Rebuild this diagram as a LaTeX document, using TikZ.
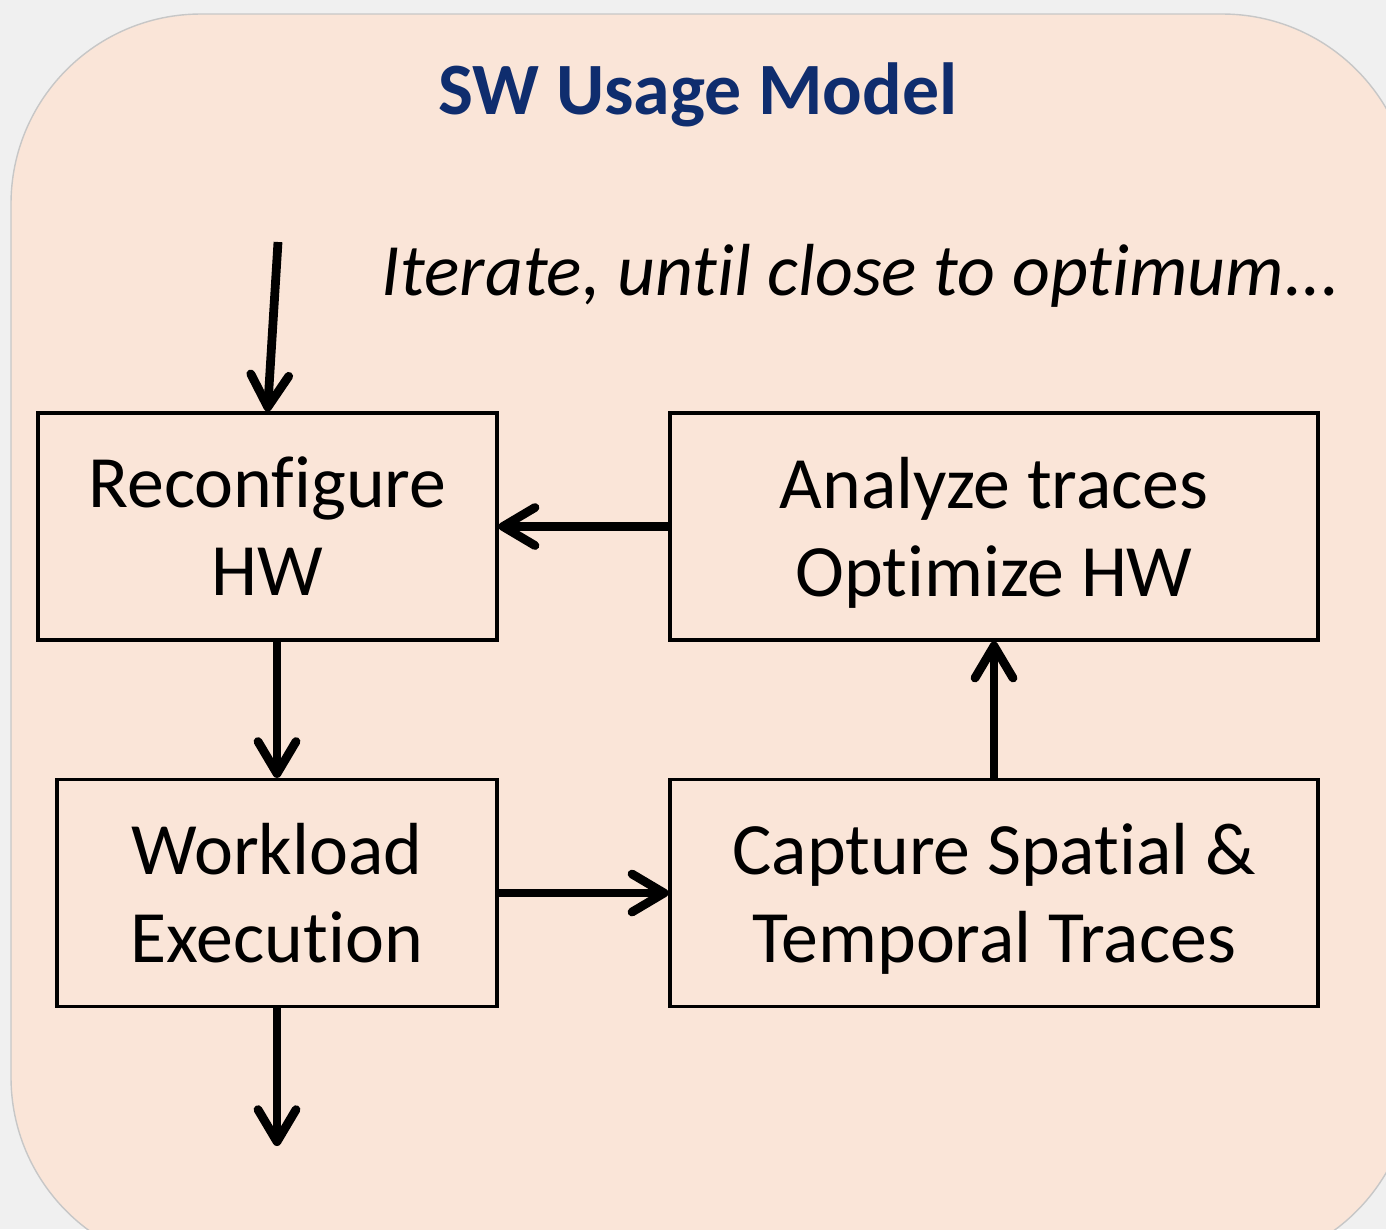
\documentclass[tikz,border=0pt]{standalone}
\usepackage{fontspec}
\setmainfont[Ligatures={NoCommon}]{Carlito}
\usetikzlibrary{arrows.meta}
\definecolor{fond}{HTML}{F0F0F0}
\definecolor{peche}{HTML}{FAE5D8}
\definecolor{bleutitre}{HTML}{0F2D6E}
\begin{document}
\begin{tikzpicture}
\tikzset{boite/.style={draw, line width=0.9pt, minimum height=2.27cm, font=\fontsize{21}{25}\selectfont, align=center, inner sep=0pt, text depth=0pt}}
\tikzset{fleche/.style={line width=2.5pt, -{Straight Barb[length=3.2mm, width=3.8mm, round]}}}
\useasboundingbox (0, 0) rectangle (13.86, -12.29);
\fill[fond] (0, 0) rectangle (13.86, -12.29);
\begin{scope}
\clip (0, 0) rectangle (13.86, -12.29);
\draw[fill=peche, draw=black!22, line width=0.4pt, rounded corners=1.9cm] (0.11, -0.14) rectangle (14.12, -12.67);
\end{scope}
\node[font=\fontsize{21}{25}\selectfont\bfseries, text=bleutitre] (Titre) at (6.98, -0.95) {SW Usage Model};
\node[font=\fontsize{21}{25}\selectfont\itshape] (Iter) at (8.61, -2.76) {Iterate, until close to optimum...};
\node[boite, minimum width=4.59cm] (Reconf) at (2.675, -5.265) {Reconfigure\\HW};
\node[boite, minimum width=6.48cm] (Analyse) at (9.94, -5.265) {Analyze traces\\Optimize HW};
\node[boite, minimum width=4.40cm] (Work) at (2.77, -8.93) {Workload\\Execution};
\node[boite, minimum width=6.48cm] (Capture) at (9.94, -8.93) {Capture Spatial \&\\Temporal Traces};
\coordinate (Entree) at (2.78, -2.42);
\coordinate (Sortie) at (2.77, -11.46);
\draw[fleche] (Entree) -- (Reconf.north);
\draw[fleche] (Reconf.south -| Work.north) -- (Work.north);
\draw[fleche] (Work.east) -- (Capture.west);
\draw[fleche] (Capture.north) -- (Analyse.south);
\draw[fleche] (Analyse.west) -- (Reconf.east);
\draw[fleche] (Work.south) -- (Sortie);
\end{tikzpicture}
\end{document}
